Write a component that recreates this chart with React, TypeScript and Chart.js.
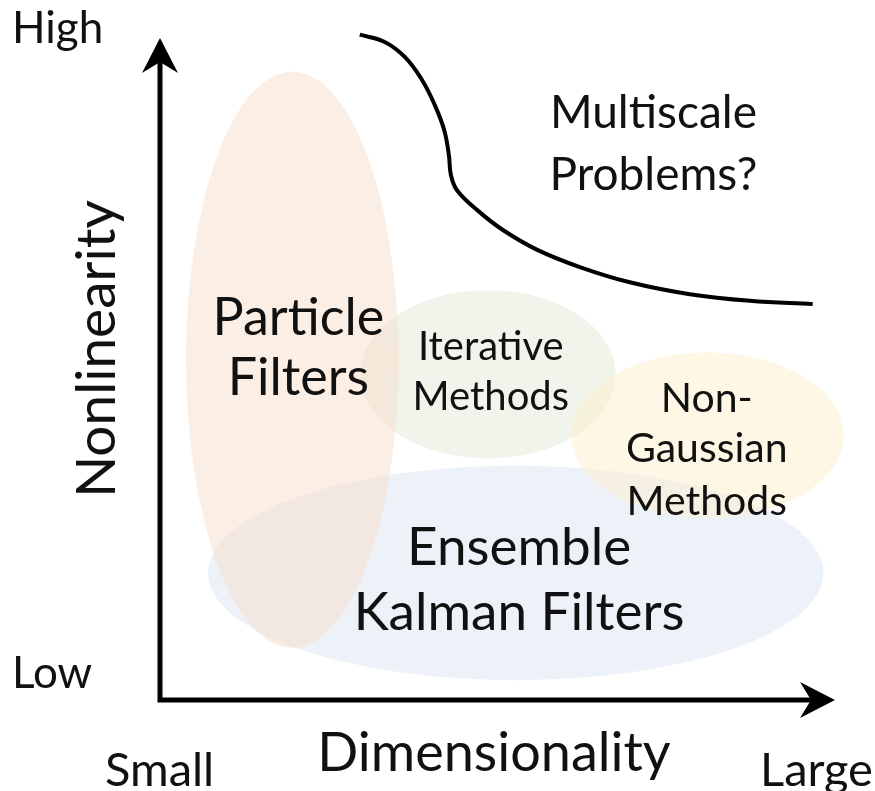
import React, { useEffect, useRef } from "react";
import { Chart, registerables } from "chart.js";

Chart.register(...registerables);

// ---- data (in diagram units: Dimensionality 0..10, Nonlinearity 0..10) ----
const regionNames = ["Ensemble Kalman Filters", "Iterative Methods", "Non-Gaussian Methods", "Particle Filters"];
const regionCenterX = [5.27, 4.86, 8.11, 1.96];
const regionCenterY = [1.92, 4.92, 4.0, 5.14];
const regionRadiusX = [4.56, 1.89, 2.02, 1.575];
const regionRadiusY = [1.62, 1.27, 1.25, 4.35];

const labelLines = [
  ["Ensemble", "Kalman Filters"],
  ["Iterative", "Methods"],
  ["Non-", "Gaussian", "Methods"],
  ["Particle", "Filters"],
  ["Multiscale", "Problems?"],
];
const labelX = [5.32, 4.9, 8.1, 2.05, 7.31];
const labelBaselines = [
  [2.04, 1.06],
  [5.14, 4.38],
  [4.35, 3.6, 2.79],
  [5.51, 4.61],
  [8.64, 7.7],
];

const boundaryX = [2.96, 3.33, 3.63, 3.88, 4.07, 4.21, 4.28, 4.31, 4.4, 4.7, 5.08, 5.59, 6.22, 6.96, 7.85, 8.74, 9.67];
const boundaryY = [10.05, 9.94, 9.71, 9.37, 8.99, 8.61, 8.23, 7.93, 7.7, 7.4, 7.1, 6.8, 6.54, 6.31, 6.13, 6.03, 5.98];

const yAxisTitle = "Nonlinearity";
const xAxisTitle = "Dimensionality";
const yTickLabels = ["Low", "High"];
const xTickLabels = ["Small", "Large"];

// ---- styles ----
const FONT = "Lato, 'Open Sans', sans-serif";
const WEIGHT = "400";
const TEXT_COLOR = "#111";
const regionColors = [
  "rgba(219, 229, 243, 0.5)",
  "rgba(225, 233, 213, 0.5)",
  "rgba(253, 239, 205, 0.5)",
  "rgba(247, 221, 201, 0.5)",
];
const labelFontSizes = [53, 40, 41, 52, 46];

const diagramPlugin = {
  id: "diagram",
  beforeDatasetsDraw(chart: any) {
    const { ctx, scales } = chart;
    const xs = scales.x;
    const ys = scales.y;
    ctx.save();
    regionNames.forEach((_, i) => {
      const cx = xs.getPixelForValue(regionCenterX[i]);
      const cy = ys.getPixelForValue(regionCenterY[i]);
      const rx = Math.abs(xs.getPixelForValue(regionCenterX[i] + regionRadiusX[i]) - cx);
      const ry = Math.abs(ys.getPixelForValue(regionCenterY[i] + regionRadiusY[i]) - cy);
      ctx.beginPath();
      ctx.ellipse(cx, cy, rx, ry, 0, 0, Math.PI * 2);
      ctx.fillStyle = regionColors[i];
      ctx.fill();
    });
    ctx.restore();
  },
  afterDatasetsDraw(chart: any) {
    const { ctx, scales, chartArea } = chart;
    const xs = scales.x;
    const ys = scales.y;
    ctx.save();
    ctx.fillStyle = TEXT_COLOR;
    ctx.textBaseline = "alphabetic";
    // region labels
    labelLines.forEach((lines, i) => {
      ctx.font = `${WEIGHT} ${labelFontSizes[i]}px ${FONT}`;
      ctx.textAlign = "center";
      lines.forEach((t, j) => {
        ctx.fillText(t, xs.getPixelForValue(labelX[i]), ys.getPixelForValue(labelBaselines[i][j]));
      });
    });

    // axes with arrows
    const { left, right, top, bottom } = chartArea;
    ctx.strokeStyle = "#000";
    ctx.fillStyle = "#000";
    ctx.lineWidth = 5;
    ctx.lineCap = "butt";
    ctx.beginPath();
    ctx.moveTo(left, bottom + 2.5);
    ctx.lineTo(left, top + 20);
    ctx.moveTo(left - 2.5, bottom);
    ctx.lineTo(right - 20, bottom);
    ctx.stroke();
    // y arrow head
    ctx.beginPath();
    ctx.moveTo(left, top);
    ctx.lineTo(left + 18, top + 35);
    ctx.lineTo(left, top + 24);
    ctx.lineTo(left - 18, top + 35);
    ctx.closePath();
    ctx.fill();
    // x arrow head
    ctx.beginPath();
    ctx.moveTo(right, bottom);
    ctx.lineTo(right - 35, bottom - 18);
    ctx.lineTo(right - 24, bottom);
    ctx.lineTo(right - 35, bottom + 18);
    ctx.closePath();
    ctx.fill();

    // axis labels
    ctx.fillStyle = TEXT_COLOR;
    ctx.textAlign = "left";
    ctx.font = `${WEIGHT} 44px ${FONT}`;
    ctx.fillText(yTickLabels[1], 12, top + 5);
    ctx.fillText(yTickLabels[0], 12, bottom - 12);
    ctx.font = `${WEIGHT} 47px ${FONT}`;
    ctx.fillText(xTickLabels[0], 105, bottom + 86);
    ctx.fillText(xTickLabels[1], 760, bottom + 86);
    ctx.textAlign = "center";
    ctx.font = `${WEIGHT} 54px ${FONT}`;
    ctx.fillText(xAxisTitle, 494, bottom + 71);
    ctx.save();
    ctx.translate(left - 45, (top + bottom) / 2 - 20);
    ctx.rotate(-Math.PI / 2);
    ctx.font = `${WEIGHT} 55px ${FONT}`;
    ctx.fillText(yAxisTitle, 0, 0);
    ctx.restore();
    ctx.restore();
  },
};

export default function App() {
  const canvasRef = useRef<HTMLCanvasElement | null>(null);
  useEffect(() => {
    if (!canvasRef.current) return;
    const chart = new Chart(canvasRef.current, {
      type: "scatter",
      data: {
        datasets: [
          {
            label: "Boundary",
            data: boundaryX.map((x, i) => ({ x, y: boundaryY[i] })),
            showLine: true,
            borderColor: "#000",
            borderWidth: 4,
            pointRadius: 0,
            tension: 0.4,
            fill: false,
            clip: false as any,
          },
        ],
      },
      options: {
        responsive: false,
        animation: false,
        layout: { padding: { left: 160, right: 40, top: 38, bottom: 91 } },
        plugins: { legend: { display: false }, tooltip: { enabled: false } },
        scales: {
          x: { type: "linear", min: 0, max: 10, display: false },
          y: { type: "linear", min: 0, max: 10, display: false },
        },
      },
      plugins: [diagramPlugin],
    });
    return () => chart.destroy();
  }, []);
  return (
    <div style={{ position: "fixed", left: 0, top: 0, width: 875, height: 791, background: "#fff" }}>
      <canvas ref={canvasRef} width={875} height={791} />
    </div>
  );
}
